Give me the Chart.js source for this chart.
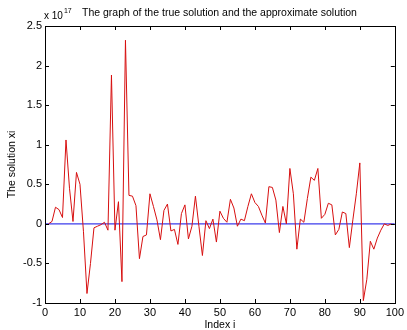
<!DOCTYPE html>
<html>
<head>
<meta charset="utf-8">
<script src="https://cdn.jsdelivr.net/npm/chart.js@4.4.1/dist/chart.umd.min.js"></script>
<style>
  html, body { margin: 0; padding: 0; background: #fff; }
  #wrap { width: 407px; height: 330px; }
</style>
</head>
<body>
<div id="wrap"><canvas id="myChart"></canvas></div>
<script>
// valores en unidades de 1e17
const approxIndex = Array.from({ length: 99 }, (_, k) => k + 1);
const approxValues = [
  0, 0.03, 0.21, 0.18, 0.08, 1.06, 0.45, 0.03, 0.65, 0.5,
  -0.1, -0.88, -0.5, -0.05, -0.03, -0.01, 0.02, -0.08, 1.88, -0.08,
  0.28, -0.73, 2.32, 0.36, 0.35, 0.23, -0.44, -0.16, -0.14, 0.38,
  0.22, 0.05, -0.2, 0.17, 0.25, -0.09, -0.07, -0.26, 0.13, 0.24,
  -0.19, -0.03, 0.35, -0.03, -0.4, 0.04, -0.06, 0.06, -0.23, 0.16,
  0.07, 0.02, 0.31, 0.2, -0.03, 0.06, 0.04, 0.22, 0.38, 0.27,
  0.22, 0.11, 0.01, 0.47, 0.46, 0.3, -0.11, 0.22, 0.0, 0.7,
  0.38, -0.32, 0.06, 0.02, 0.32, 0.59, 0.55, 0.7, 0.07, 0.12,
  0.26, 0.24, -0.14, -0.07, 0.15, 0.13, -0.3, 0.05, 0.38, 0.77,
  -0.97, -0.7, -0.22, -0.32, -0.18, -0.08, 0, -0.02, 0
];
const trueIndex = Array.from({ length: 101 }, (_, k) => k);
const trueValues = trueIndex.map(() => 0);

const xTicks = [0, 10, 20, 30, 40, 50, 60, 70, 80, 90, 100];
const yTicks = [-1, -0.5, 0, 0.5, 1, 1.5, 2, 2.5];

const FONT = 'Arial, "Liberation Sans", sans-serif';

// Caja y marcas interiores estilo MATLAB
const boxPlugin = {
  id: 'box',
  afterDraw(chart) {
    const { ctx, chartArea: a, scales } = chart;
    ctx.save();
    ctx.strokeStyle = '#000';
    ctx.lineWidth = 1;
    ctx.strokeRect(Math.round(a.left) + 0.5, Math.round(a.top) + 0.5,
                   Math.round(a.right - a.left), Math.round(a.bottom - a.top));
    ctx.beginPath();
    xTicks.forEach(t => {
      const px = Math.round(scales.x.getPixelForValue(t)) + 0.5;
      ctx.moveTo(px, a.bottom); ctx.lineTo(px, a.bottom - 4);
      ctx.moveTo(px, a.top); ctx.lineTo(px, a.top + 4);
    });
    yTicks.forEach(t => {
      const py = Math.round(scales.y.getPixelForValue(t)) + 0.5;
      ctx.moveTo(a.left, py); ctx.lineTo(a.left + 4, py);
      ctx.moveTo(a.right, py); ctx.lineTo(a.right - 4, py);
    });
    ctx.stroke();

    // título y exponente
    ctx.fillStyle = '#000';
    ctx.textBaseline = 'alphabetic';
    ctx.textAlign = 'left';
    ctx.font = '10px ' + FONT;
    ctx.fillText('x 10', 44, 19);
    const w = ctx.measureText('x 10').width;
    ctx.font = '7px ' + FONT;
    ctx.fillText('17', 44 + w + 1, 13);
    ctx.font = '10.5px ' + FONT;
    ctx.fillText('The graph of the true solution and the approximate solution', 82, 16);

    // etiquetas de ejes
    ctx.textAlign = 'center';
    ctx.fillText('Index i', (a.left + a.right) / 2, 328);
    ctx.translate(15, (a.top + a.bottom) / 2);
    ctx.rotate(-Math.PI / 2);
    ctx.fillText('The solution xi', 0, 0);
    ctx.restore();
  }
};

const ctx = document.getElementById('myChart').getContext('2d');
const chart = new Chart(ctx, {
  type: 'line',
  data: {
    datasets: [
      {
        label: 'approximate',
        data: approxIndex.map((x, k) => ({ x: x, y: approxValues[k] })),
        borderColor: 'rgb(215, 15, 15)',
        borderWidth: 1,
        pointRadius: 0,
        fill: false,
        tension: 0
      },
      {
        label: 'true',
        data: trueIndex.map((x, k) => ({ x: x, y: trueValues[k] })),
        borderColor: 'rgb(60, 60, 235)',
        borderWidth: 1.2,
        pointRadius: 0,
        fill: false
      }
    ]
  },
  options: {
    responsive: true,
    maintainAspectRatio: false,
    animation: false,
    devicePixelRatio: 1,
    layout: { padding: { top: 26, right: 9, left: 0, bottom: 0 } },
    plugins: {
      legend: { display: false },
      tooltip: { enabled: false }
    },
    scales: {
      x: {
        type: 'linear',
        min: 0,
        max: 100,
        afterBuildTicks: s => { s.ticks = xTicks.map(v => ({ value: v })); },
        afterFit: s => { s.height = 27; },
        grid: { display: false, drawTicks: false },
        border: { display: false },
        ticks: { color: '#000', font: { family: FONT, size: 11 }, padding: 3, maxRotation: 0,
                 callback: v => String(v) }
      },
      y: {
        type: 'linear',
        min: -1,
        max: 2.5,
        afterBuildTicks: s => { s.ticks = yTicks.map(v => ({ value: v })); },
        afterFit: s => { s.width = 45; },
        grid: { display: false, drawTicks: false },
        border: { display: false },
        ticks: { color: '#000', font: { family: FONT, size: 11 }, padding: 3,
                 callback: v => String(v) }
      }
    }
  },
  plugins: [boxPlugin]
});
</script>
</body>
</html>
